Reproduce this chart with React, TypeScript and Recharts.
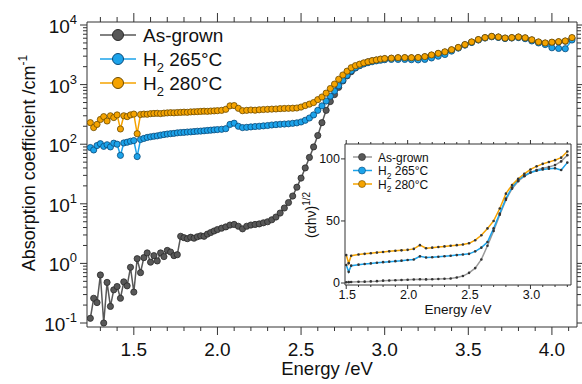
import React from 'react';
import { LineChart, Line, XAxis, YAxis, ReferenceLine } from 'recharts';

// photon energy (eV) of the measured points
const ENERGY = [
  1.24, 1.26, 1.28, 1.3, 1.32, 1.34, 1.36, 1.38, 1.4, 1.42, 1.44, 1.46, 1.48, 1.5, 1.52, 1.54, 1.56, 1.58, 1.6, 1.62,
  1.64, 1.66, 1.68, 1.7, 1.72, 1.74, 1.76, 1.78, 1.8, 1.82, 1.84, 1.86, 1.88, 1.9, 1.92, 1.94, 1.96, 1.98, 2.0,
  2.025, 2.05, 2.075, 2.1, 2.125, 2.15, 2.175, 2.2, 2.225, 2.25, 2.275, 2.3, 2.325, 2.35, 2.375, 2.4, 2.425, 2.45,
  2.475, 2.5, 2.525, 2.55, 2.575, 2.6, 2.625, 2.65, 2.675, 2.7, 2.725, 2.75, 2.775, 2.8, 2.825, 2.85, 2.875, 2.9,
  2.925, 2.95, 2.975, 3.0,
  3.04, 3.08, 3.12, 3.16, 3.2, 3.24, 3.28, 3.32, 3.36, 3.4, 3.44, 3.48, 3.52, 3.56, 3.6, 3.64, 3.68, 3.72, 3.76,
  3.8, 3.84, 3.88, 3.92, 3.96, 4.0, 4.04, 4.08, 4.12,
];

// absorption coefficient (cm^-1)
const AS_GROWN = [
  0.12, 0.26, 0.22, 0.64, 0.1, 0.48, 0.19, 0.36, 0.41, 0.26, 0.49, 0.42, 0.86, 0.33, 1.2, 0.7, 1.25, 1.5, 1.05, 1.35,
  1.1, 1.5, 1.3, 1.65, 1.55, 1.35, 1.4, 2.85, 2.7, 2.6, 2.75, 2.65, 2.8, 2.9, 2.85, 3.1, 3.3, 3.5, 3.7,
  3.9, 4.1, 4.4, 4.5, 4.2, 3.8, 4.2, 4.4, 4.5, 4.6, 4.8, 5.0, 5.4, 6.0, 7.0, 8.5, 10.5, 13.5, 19, 27,
  40, 60, 90, 140, 230, 370, 520, 680, 900, 1150, 1400, 1650, 1900, 2100, 2250, 2400, 2500, 2580, 2650, 2700,
  2750, 2800, 2810, 2800, 2820, 2920, 3100, 3300, 3500, 3800, 4150, 4650, 5150, 5650, 6100, 6400, 6250, 6000, 6100,
  6250, 6050, 5600, 5150, 4950, 5100, 5200, 5350, 6000,
];
const H2_265 = [
  88, 80, 95, 102, 92, 98, 90, 104, 100, 65, 105, 108, 112, 115, 62, 120, 125, 130, 133, 136,
  138, 142, 145, 148, 150, 152, 155, 157, 158, 160, 161, 163, 165, 166, 168, 170, 172, 174, 176,
  178, 182, 215, 225, 200, 190, 192, 195, 198, 200, 203, 206, 210, 213, 216, 218, 220, 224, 228, 236,
  252, 275, 310, 370, 440, 530, 640, 780, 960, 1180, 1430, 1700, 1920, 2080, 2220, 2330, 2420, 2500, 2560, 2620,
  2650, 2650, 2650, 2620, 2600, 2650, 2800, 3000, 3200, 3650, 4100, 4600, 5100, 5600, 6050, 6350, 6200, 5950, 6050,
  6150, 5900, 5400, 5000, 4700, 4150, 4050, 4000, 5600,
];
const H2_280 = [
  230, 190, 215, 260, 290, 245, 300, 280, 310, 180, 300, 290, 310, 320, 150, 315, 320, 318, 325, 328,
  330, 326, 332, 335, 338, 336, 340, 342, 345, 343, 348, 350, 352, 355, 358, 356, 360, 362, 365,
  370, 385, 440, 445, 400, 365, 370, 375, 372, 378, 382, 385, 388, 390, 395, 398, 400, 402, 405, 420,
  445, 470, 500, 560, 620, 720, 860, 1020, 1230, 1450, 1680, 1920, 2080, 2200, 2320, 2420, 2520, 2590, 2680, 2740,
  2780, 2830, 2840, 2830, 2850, 2950, 3150, 3350, 3550, 3850, 4200, 4700, 5200, 5700, 6150, 6450, 6300, 6050, 6150,
  6300, 6100, 5650, 5200, 5000, 5150, 5250, 5400, 6150,
];

// inset: (alpha h nu)^1/2 vs energy
const INSET_ENERGY = [
  1.5, 1.52, 1.54, 1.6, 1.65, 1.7, 1.75, 1.8, 1.85, 1.9, 1.95, 2.0, 2.05, 2.1, 2.15, 2.2, 2.25, 2.3, 2.35,
  2.4, 2.45, 2.5, 2.55, 2.6, 2.65, 2.7, 2.75, 2.8, 2.85, 2.9, 2.95, 3.0, 3.05, 3.1, 3.15, 3.2, 3.25, 3.3,
];
const INSET_AS_GROWN = [
  0.6, 0.7, 0.8, 1.0, 1.1, 1.3, 1.5, 1.9, 2.0, 2.2, 2.4, 2.6, 2.8, 3.0, 2.9, 3.0, 3.2, 3.4, 3.6,
  4.4, 5.6, 8.2, 12, 19, 30, 42, 55, 67, 76, 82, 86, 89, 91, 92.5, 93.5, 95, 98, 103,
];
const INSET_H2_265 = [
  14.5, 9, 14, 14.8, 15.3, 15.8, 16.3, 16.8, 17.2, 17.6, 18, 18.5, 19, 21.5, 20.5, 20.8, 21.2, 21.6, 22,
  22.5, 23, 23.5, 25.5, 28.5, 33, 44, 56, 68, 77, 83, 86.5, 89, 90.5, 91.5, 92, 92.5, 91, 97,
];
const INSET_H2_280 = [
  22.5, 16, 22, 23, 23.5, 24, 24.5, 25, 25.5, 26, 26.3, 26.7, 27.5, 30.5, 28, 28.5, 29, 29.5, 30,
  30.5, 31, 32, 34.5, 38.5, 44, 50, 60, 72, 79, 84, 88, 91.5, 94, 96, 97.5, 99, 101, 106,
];

const MAIN_X_TICKS = [
  1.3, 1.4, 1.5, 1.6, 1.7, 1.8, 1.9, 2.0, 2.1, 2.2, 2.3, 2.4, 2.5, 2.6, 2.7, 2.8, 2.9, 3.0, 3.1, 3.2, 3.3, 3.4,
  3.5, 3.6, 3.7, 3.8, 3.9, 4.0, 4.1,
];
const MAIN_X_LABELS = [1.5, 2.0, 2.5, 3.0, 3.5, 4.0];
const MAIN_Y_TICKS = [
  0.1, 0.2, 0.3, 0.4, 0.5, 0.6, 0.7, 0.8, 0.9,
  1, 2, 3, 4, 5, 6, 7, 8, 9,
  10, 20, 30, 40, 50, 60, 70, 80, 90,
  100, 200, 300, 400, 500, 600, 700, 800, 900,
  1000, 2000, 3000, 4000, 5000, 6000, 7000, 8000, 9000,
  10000,
];
const MAIN_Y_DECADES = [0.1, 1, 10, 100, 1000, 10000];
const MAIN_Y_EXPONENTS = ['-1', '0', '1', '2', '3', '4'];

const INSET_X_TICKS = [
  1.5, 1.6, 1.7, 1.8, 1.9, 2.0, 2.1, 2.2, 2.3, 2.4, 2.5, 2.6, 2.7, 2.8, 2.9, 3.0, 3.1, 3.2, 3.3,
];
const INSET_X_LABELS = [1.5, 2.0, 2.5, 3.0];
const INSET_Y_TICKS = [0, 50, 100];

const SERIES = [
  { key: 'a', label: 'As-grown', sub: '', rest: '', color: '#585858', stroke: '#2a2a2a', insetLine: '#9a9a9a' },
  { key: 'b', label: 'H', sub: '2', rest: ' 265°C', color: '#1ca3ea', stroke: '#0b4a78', insetLine: '#1ca3ea' },
  { key: 'c', label: 'H', sub: '2', rest: ' 280°C', color: '#f5a300', stroke: '#6b4a00', insetLine: '#f5a300' },
];

const X_DOMAIN: [number, number] = [1.22, 4.15];
const Y_DOMAIN: [number, number] = [0.0857, 11230];
const INSET_X_DOMAIN: [number, number] = [1.49, 3.33];
const INSET_Y_DOMAIN: [number, number] = [-1.6, 112];

const AXIS = '#333';
const FONT = '"Liberation Sans", Arial, sans-serif';
const PLOT = { left: 87, right: 577, top: 22, bottom: 327 };
const INSET = { x: 290, y: 130, w: 292, h: 200, left: 55, top: 14, right: 571, bottom: 285 };

const near = (list: number[], v: number) => list.some((m) => Math.abs(m - v) < 1e-6);

const mainData = ENERGY.map((e, i) => ({ e, a: AS_GROWN[i], b: H2_265[i], c: H2_280[i] }));
const insetData = INSET_ENERGY.map((e, i) => ({
  e,
  a: INSET_AS_GROWN[i],
  b: INSET_H2_265[i],
  c: INSET_H2_280[i],
}));

const MainXTick = (props: any) => {
  const { x, payload } = props;
  const v = payload.value;
  const major = near(MAIN_X_LABELS, v);
  const len = major ? 8 : 4;
  return (
    <g>
      <line x1={x} x2={x} y1={PLOT.bottom} y2={PLOT.bottom + len} stroke={AXIS} />
      <line x1={x} x2={x} y1={PLOT.top} y2={PLOT.top - (major ? 9 : 5)} stroke={AXIS} />
      {major && (
        <text x={x} y={PLOT.bottom + 29} textAnchor="middle" fontSize={19} fill="#111" fontFamily={FONT}>
          {v.toFixed(1)}
        </text>
      )}
    </g>
  );
};

const MainYTick = (props: any) => {
  const { y, payload } = props;
  const v = payload.value;
  const idx = MAIN_Y_DECADES.findIndex((d) => Math.abs(d - v) / d < 1e-6);
  const major = idx >= 0;
  const len = major ? 7 : 4;
  return (
    <g>
      <line x1={PLOT.left} x2={PLOT.left - len} y1={y} y2={y} stroke={AXIS} />
      <line x1={PLOT.right} x2={PLOT.right + len} y1={y} y2={y} stroke={AXIS} />
      {major && (
        <text x={PLOT.left - 10} y={y + 8} textAnchor="end" fontSize={19} fill="#111" fontFamily={FONT}>
          10
          <tspan dy={-9} fontSize={13}>
            {MAIN_Y_EXPONENTS[idx]}
          </tspan>
        </text>
      )}
    </g>
  );
};

const InsetXTick = (props: any) => {
  const { x, payload } = props;
  const v = payload.value;
  const major = near(INSET_X_LABELS, v);
  const by = INSET.bottom - INSET.y;
  const ty = INSET.top;
  return (
    <g>
      <line x1={x} x2={x} y1={by} y2={by + (major ? 4 : 2)} stroke={AXIS} />
      <line x1={x} x2={x} y1={ty} y2={ty - (major ? 4 : 2)} stroke={AXIS} />
      {major && (
        <text x={x + 1} y={by + 14} textAnchor="middle" fontSize={12.5} fill="#111" fontFamily={FONT}>
          {v.toFixed(1)}
        </text>
      )}
    </g>
  );
};

const InsetYTick = (props: any) => {
  const { y, payload } = props;
  const lx = INSET.left;
  return (
    <g>
      <line x1={lx} x2={lx - 4} y1={y} y2={y} stroke={AXIS} />
      <text x={lx - 5} y={y + 4} textAnchor="end" fontSize={12.5} fill="#111" fontFamily={FONT}>
        {payload.value}
      </text>
    </g>
  );
};

const SeriesName = ({ s, subSize }: { s: (typeof SERIES)[number]; subSize: number }) => (
  <>
    {s.label}
    {s.sub && (
      <tspan dy={subSize * 0.45} fontSize={subSize}>
        {s.sub}
      </tspan>
    )}
    {s.rest && <tspan dy={-subSize * 0.45}>{s.rest}</tspan>}
  </>
);

const Overlay = () => (
  <svg
    width={582}
    height={384}
    style={{ position: 'absolute', left: 0, top: 0, pointerEvents: 'none' }}
    fontFamily={FONT}
    fill="#111"
  >
    {/* main axis titles */}
    <text transform="translate(35,163) rotate(-90)" textAnchor="middle" fontSize={18}>
      Absorption coefficient /cm
      <tspan dy={-8} fontSize={12}>
        -1
      </tspan>
    </text>
    <text x={327} y={375} textAnchor="middle" fontSize={18.5}>
      Energy /eV
    </text>

    {/* main legend */}
    {SERIES.map((s, i) => {
      const y = 35 + i * 24;
      return (
        <g key={s.key}>
          <line x1={100} x2={136} y1={y} y2={y} stroke={s.color} strokeWidth={1.5} />
          <circle cx={118} cy={y} r={5.5} fill={s.color} stroke={s.stroke} strokeWidth={1} />
          <text x={143} y={y + 7} fontSize={19}>
            <SeriesName s={s} subSize={13} />
          </text>
        </g>
      );
    })}

    {/* inset titles */}
    <text transform="translate(316,215) rotate(-90)" textAnchor="middle" fontSize={14}>
      (αhν)
      <tspan dy={-6} fontSize={10}>
        1/2
      </tspan>
    </text>
    <text x={458} y={314} textAnchor="middle" fontSize={13.5}>
      Energy /eV
    </text>

    {/* inset legend */}
    {SERIES.map((s, i) => {
      const y = 157 + i * 13.5;
      return (
        <g key={`in-${s.key}`}>
          <line x1={353} x2={372} y1={y} y2={y} stroke={s.insetLine} strokeWidth={1.5} />
          <circle cx={362} cy={y} r={3.5} fill={s.color} stroke={s.stroke} strokeWidth={0.6} />
          <text x={378} y={y + 4.5} fontSize={12}>
            <SeriesName s={s} subSize={8.5} />
          </text>
        </g>
      );
    })}
  </svg>
);

export default function App() {
  return (
    <div style={{ position: 'absolute', left: 0, top: 0, width: 582, height: 384, background: '#fff' }}>
      <LineChart width={582} height={384} data={mainData} margin={{ top: 22, right: 5, left: 0, bottom: 0 }}>
        <XAxis
          dataKey="e"
          type="number"
          domain={X_DOMAIN}
          allowDataOverflow
          ticks={MAIN_X_TICKS}
          interval={0}
          height={57}
          tickLine={false}
          tickSize={0}
          tickMargin={0}
          axisLine={{ stroke: AXIS }}
          tick={(p: any) => <MainXTick {...p} />}
        />
        <YAxis
          type="number"
          scale="log"
          domain={Y_DOMAIN}
          allowDataOverflow
          ticks={MAIN_Y_TICKS}
          interval={0}
          width={87}
          tickLine={false}
          tickSize={0}
          tickMargin={0}
          axisLine={{ stroke: AXIS }}
          tick={(p: any) => <MainYTick {...p} />}
        />
        <ReferenceLine y={Y_DOMAIN[1]} stroke={AXIS} ifOverflow="visible" />
        <ReferenceLine x={X_DOMAIN[1]} stroke={AXIS} ifOverflow="visible" />
        {SERIES.map((s) => (
          <Line
            key={s.key}
            dataKey={s.key}
            stroke={s.color}
            strokeWidth={1.5}
            dot={{ r: 3.1, fill: s.color, stroke: s.stroke, strokeWidth: 0.8 }}
            isAnimationActive={false}
          />
        ))}
      </LineChart>

      <div style={{ position: 'absolute', left: INSET.x, top: INSET.y }}>
        <LineChart
          width={INSET.w}
          height={INSET.h}
          data={insetData}
          margin={{ top: INSET.top, right: INSET.x + INSET.w - INSET.right, left: 0, bottom: 0 }}
        >
          <XAxis
            dataKey="e"
            type="number"
            domain={INSET_X_DOMAIN}
            allowDataOverflow
            ticks={INSET_X_TICKS}
            interval={0}
            height={INSET.y + INSET.h - INSET.bottom}
            tickLine={false}
            tickSize={0}
            tickMargin={0}
            axisLine={{ stroke: AXIS }}
            tick={(p: any) => <InsetXTick {...p} />}
          />
          <YAxis
            type="number"
            domain={INSET_Y_DOMAIN}
            allowDataOverflow
            ticks={INSET_Y_TICKS}
            interval={0}
            width={INSET.left}
            tickLine={false}
            tickSize={0}
            tickMargin={0}
            axisLine={{ stroke: AXIS }}
            tick={(p: any) => <InsetYTick {...p} />}
          />
          <ReferenceLine y={INSET_Y_DOMAIN[1]} stroke={AXIS} ifOverflow="visible" />
          <ReferenceLine x={INSET_X_DOMAIN[1]} stroke={AXIS} ifOverflow="visible" />
          {SERIES.map((s) => (
            <Line
              key={s.key}
              dataKey={s.key}
              stroke={s.insetLine}
              strokeWidth={1.5}
              dot={{ r: 1.3, fill: '#333', stroke: 'none' }}
              isAnimationActive={false}
            />
          ))}
        </LineChart>
      </div>

      <Overlay />
    </div>
  );
}
